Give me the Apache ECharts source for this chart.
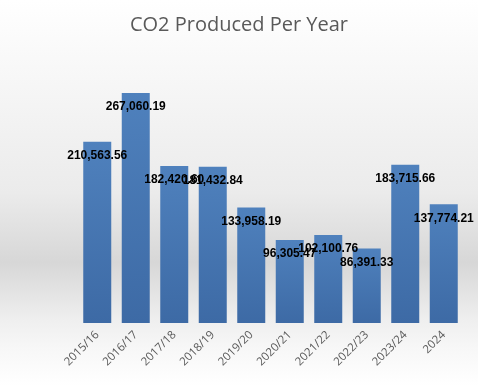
<!DOCTYPE html>
<html><head><meta charset="utf-8">
<script src="https://cdn.jsdelivr.net/npm/echarts@6/dist/echarts.min.js"></script>
<style>html,body{margin:0;padding:0;background:#fff}#c{width:478px;height:386px}</style>
</head><body><div id="c"></div>
<script>
const categories = ['2015/16','2016/17','2017/18','2018/19','2019/20','2020/21','2021/22','2022/23','2023/24','2024'];
const co2Values = [210563.56, 267060.19, 182420.60, 181432.84, 133958.19, 96305.47, 102100.76, 86391.33, 183715.66, 137774.21];
const chartTitle = 'CO2 Produced Per Year';

const chart = echarts.init(document.getElementById('c'), null, {renderer:'canvas'});
chart.setOption({
  backgroundColor: {type:'linear', x:0, y:0, x2:0, y2:1, colorStops:[
    {offset:0, color:'#ffffff'},
    {offset:0.5, color:'#ebebeb'},
    {offset:0.68, color:'#d7d7d7'},
    {offset:0.83, color:'#efefef'},
    {offset:0.9, color:'#f7f7f7'},
    {offset:1, color:'#ffffff'}
  ]},
  animation:false,
  title:{text:chartTitle, left:'center', top:10,
    textStyle:{fontFamily:'Open Sans', fontSize:20, fontWeight:'normal', color:'#595959'}},
  grid:{left:78, right:15, top:64.6, bottom:63},
  xAxis:{type:'category', data:categories,
    axisLine:{show:false}, axisTick:{show:false},
    axisLabel:{rotate:45, margin:10, fontFamily:'Open Sans', fontSize:11.5, color:'#595959', interval:0}},
  yAxis:{type:'value', min:0, max:300000, show:false, splitLine:{show:false}},
  series:[{type:'bar', data:co2Values, barWidth:28,
    itemStyle:{color:{type:'linear', x:0, y:0, x2:0, y2:1, colorStops:[
      {offset:0, color:'#4f81bd'}, {offset:1, color:'#3d6aa5'}]}},
    label:{show:true, position:'insideTop', distance:8,
      formatter: p => p.value.toLocaleString('en-US',{minimumFractionDigits:2, maximumFractionDigits:2}),
      fontFamily:'Liberation Sans', fontWeight:'bold', fontSize:12, color:'#000'}
  }]
});
</script></body></html>
